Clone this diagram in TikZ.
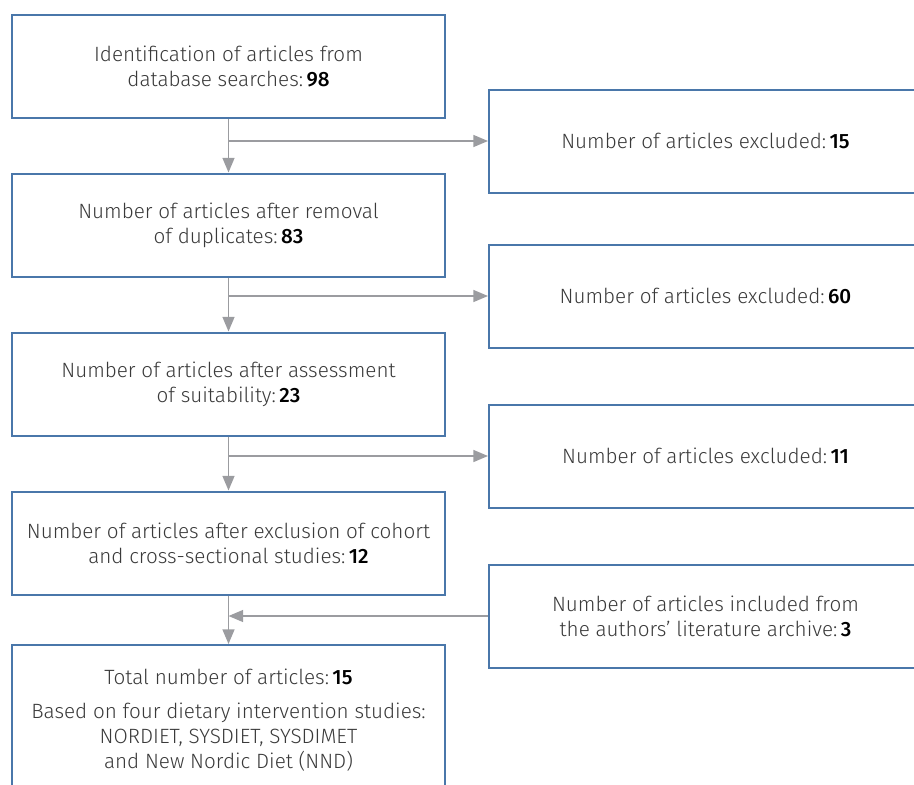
\documentclass[tikz,border=0pt]{standalone}
\usepackage{fontspec}
\setmainfont{Fira Sans Light}[BoldFont={Fira Sans Medium}]
\usetikzlibrary{arrows.meta,positioning}
\definecolor{boxblue}{HTML}{4A77AA}
\definecolor{arrowgray}{HTML}{9B9CA0}
\definecolor{textgray}{HTML}{3A3A3A}
\newcommand{\Num}[1]{\,\textcolor{black}{\textbf{#1}}}

\begin{document}
\begin{tikzpicture}[x=0.75pt,y=-0.75pt,% one unit is one pixel of the reference
      every node/.style={
        align=center,     % so that "\\" breaks the line
        text=textgray,
        font=\fontsize{15.5}{18.75}\selectfont
      },
      box/.style={rectangle,draw=boxblue,line width=1.5pt,fill=white,
        minimum width=324.75pt,minimum height=77.25pt,inner sep=0pt},
      flow/.style={color=arrowgray,line width=1.1pt,
        -{Triangle[length=11pt,width=9pt]}},
      node distance=40.5pt
    ]
    \useasboundingbox (0,0) rectangle (914,785);
    \clip (0,0) rectangle (914,785);
    % main column
    \node[box](ident) at (228.5,66){Identification of articles from \\
      database searches:\Num{98}};
    \node[box](dup)[below=of ident]{Number of articles after removal \\
      of duplicates:\Num{83}};
    \node[box](suit)[below=of dup]{Number of articles after assessment \\
      of suitability:\Num{23}};
    \node[box](cohort)[below=of suit]{Number of articles after exclusion of cohort \\
      and cross-sectional studies:\Num{12}};
    \node[box,minimum height=112.5pt,anchor=north](total) at (228.5,644){Total number of articles:\Num{15} \\[6.75pt]
      Based on four dietary intervention studies: \\
      NORDIET, SYSDIET, SYSDIMET \\
      and New Nordic Diet (NND)};
    % side boxes
    \node[box](excl1) at (705.5,141){Number of articles excluded:\Num{15}};
    \node[box](excl2) at (705.5,296){Number of articles excluded:\Num{60}};
    \node[box](excl3) at (705.5,456){Number of articles excluded:\Num{11}};
    \node[box](incl) at (705.5,616){Number of articles included from \\
      the authors' literature archive:\Num{3}};
    % connectors
    \draw[flow] (ident) -- (dup);
    \draw[flow] (dup) -- (suit);
    \draw[flow] (suit) -- (cohort);
    \draw[flow] (cohort) -- (total);
    \draw[flow] (ident.south |- excl1.west) -- (excl1.west);
    \draw[flow] (dup.south |- excl2.west) -- (excl2.west);
    \draw[flow] (suit.south |- excl3.west) -- (excl3.west);
    \draw[flow] (incl.west) -- (incl.west -| total.north);
  \end{tikzpicture}
\end{document}
